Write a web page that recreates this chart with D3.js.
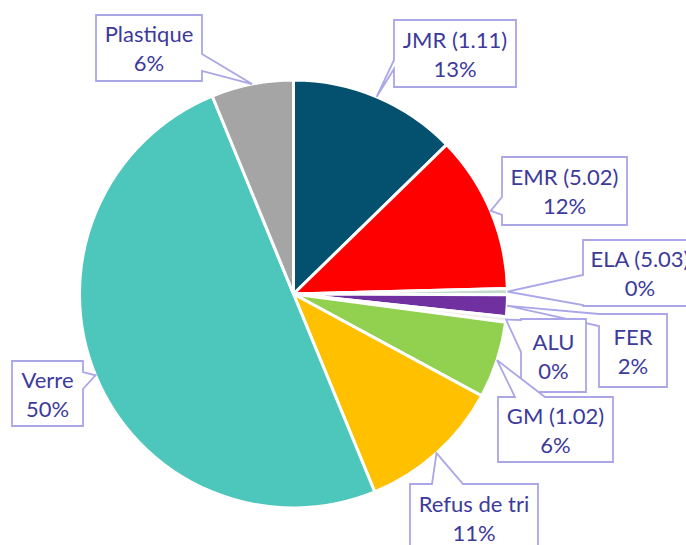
<!DOCTYPE html>
<html>
<head>
<meta charset="utf-8">
<script src="https://cdn.jsdelivr.net/npm/d3@7"></script>
<style>
  body { margin: 0; background: #fff; }
  svg { display: block; }
</style>
</head>
<body>
<script>
// data (share of tonnage, %)
var categories = ["JMR (1.11)", "EMR (5.02)", "ELA (5.03)", "FER", "ALU", "GM (1.02)", "Refus de tri", "Verre", "Plastique"];
var values = [12.7, 11.9, 0.45, 1.65, 0.4, 5.8, 10.9, 50.0, 6.2];
var colors = ["#03506f", "#ff0000", "#c5dccb", "#7030a0", "#eeeeee", "#92d050", "#ffc000", "#4dc7bc", "#a5a5a5"];

// callout boxes: [x, y, w, h], side where the wedge leaves the box, range of the wedge base
var callouts = [
  {box: [394, 20, 122, 67], side: "left", base: [60, 69]},
  {box: [502, 157, 125, 68], side: "left", base: [197, 215]},
  {box: [583, 240, 114, 66], side: "left", base: [275, 305]},
  {box: [599, 314, 68, 73], side: "left", base: [314, 326]},
  {box: [521, 319, 65, 73], side: "left", base: [320, 352]},
  {box: [498, 397, 115, 65], side: "top", base: [515, 545]},
  {box: [410, 484, 128, 67], side: "top", base: [432, 463]},
  {box: [12, 361, 71, 65], side: "right", base: [372, 389]},
  {box: [96, 15, 106, 66], side: "right", base: [54, 71]}
];

var width = 686, height = 545;
var cx = 293.5, cy = 294, radius = 214;

var svg = d3.select("body").append("svg")
    .attr("width", width)
    .attr("height", height);

var total = d3.sum(values);
var pie = d3.pie().sort(null).value(function(d){ return d; });
var arcs = pie(values);

var arc = d3.arc().innerRadius(0).outerRadius(radius);
var edge = d3.arc().innerRadius(radius).outerRadius(radius);

var g = svg.append("g").attr("transform", "translate(" + cx + "," + cy + ")");

g.selectAll("path")
    .data(arcs)
    .enter()
    .append("path")
    .attr("d", arc)
    .attr("fill", function(d, i){ return colors[i]; })
    .attr("stroke", "#fff")
    .attr("stroke-width", 3)
    .attr("stroke-linejoin", "round");

//Builds the box outline with the wedge pointing at the slice
function calloutPath(c, tip) {
  var x0 = c.box[0], y0 = c.box[1], x1 = x0 + c.box[2], y1 = y0 + c.box[3];
  var b = c.base, p = d3.path();
  p.moveTo(x0, y0);
  if (c.side == "top") { p.lineTo(b[0], y0); p.lineTo(tip[0], tip[1]); p.lineTo(b[1], y0); }
  p.lineTo(x1, y0);
  if (c.side == "right") { p.lineTo(x1, b[0]); p.lineTo(tip[0], tip[1]); p.lineTo(x1, b[1]); }
  p.lineTo(x1, y1);
  p.lineTo(x0, y1);
  if (c.side == "left") { p.lineTo(x0, b[1]); p.lineTo(tip[0], tip[1]); p.lineTo(x0, b[0]); }
  p.closePath();
  return p.toString();
}

var labels = svg.append("g")
    .selectAll("g")
    .data(arcs)
    .enter()
    .append("g");

labels.append("path")
    .attr("d", function(d, i){
        var t = edge.centroid(d);
        return calloutPath(callouts[i], [t[0] + cx, t[1] + cy]);
    })
    .attr("fill", "#fff")
    .attr("stroke", "#aaa6e8")
    .attr("stroke-width", 1.8)
    .attr("stroke-linejoin", "miter");

labels.each(function(d, i){
    var c = callouts[i];
    var mx = c.box[0] + c.box[2] / 2, my = c.box[1] + c.box[3] / 2;
    var t = d3.select(this).append("text")
        .attr("text-anchor", "middle")
        .attr("fill", "#3d3a9b")
        .style("font-family", "Lato, 'Open Sans', sans-serif")
        .style("font-size", "22px");
    t.append("tspan").attr("x", mx).attr("y", my - 6).text(categories[i]);
    t.append("tspan").attr("x", mx).attr("y", my + 23).text(Math.round(values[i] / total * 100) + "%");
});
</script>
</body>
</html>
